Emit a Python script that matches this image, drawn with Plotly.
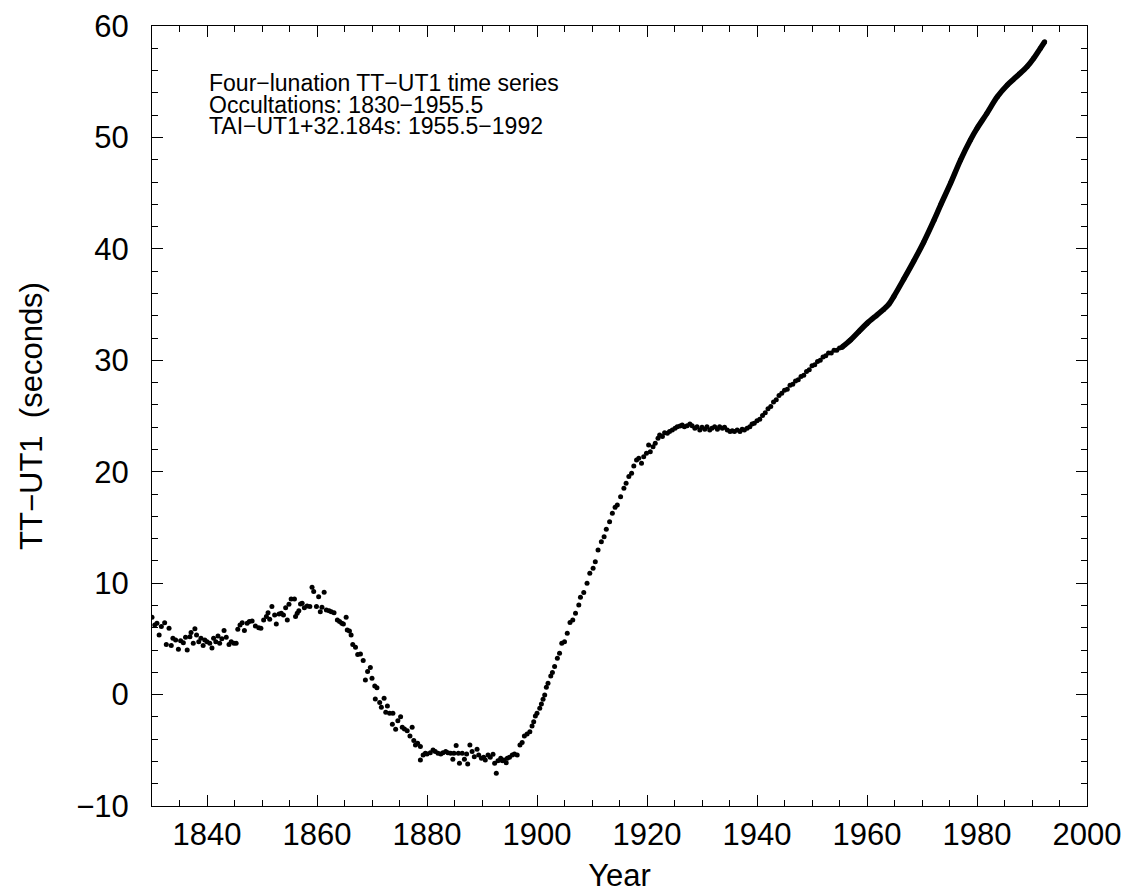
import plotly.graph_objects as go

# ---- Occultation-derived TT-UT1 (1830-1955.5) ----
occ_years_a = [1830.0, 1830.5, 1830.9, 1831.3, 1831.7, 1832.3, 1832.6, 1833.1, 1833.5, 1833.8,
               1834.3, 1834.8, 1835.2, 1835.7, 1836.1, 1836.4, 1836.9, 1837.1, 1837.5, 1837.8,
               1838.1, 1838.5, 1838.9, 1839.3, 1839.6, 1840.0, 1840.5, 1840.9, 1841.2, 1841.6,
               1842.0, 1842.3, 1842.7, 1843.1, 1843.5, 1844.0, 1844.4, 1844.9, 1845.3, 1845.6,
               1846.0, 1846.4, 1846.8, 1847.3, 1847.7, 1848.2, 1848.8, 1849.4, 1849.8, 1850.3,
               1850.8, 1851.1, 1851.4, 1851.8, 1852.3, 1852.6, 1853.1, 1853.5, 1853.9, 1854.3,
               1854.6, 1854.9, 1855.3, 1855.9, 1856.1, 1856.4, 1856.7, 1857.0, 1857.3, 1857.7,
               1858.2, 1858.7, 1859.1, 1859.4, 1859.9, 1860.3, 1860.6, 1860.9, 1861.3, 1861.7,
               1862.2, 1862.6, 1863.1, 1863.7, 1864.1, 1864.5, 1864.8, 1865.3, 1865.5, 1865.9,
               1866.2, 1866.5, 1867.0, 1867.4]
occ_vals_a = [6.93, 6.25, 6.4, 5.35, 6.1, 6.45, 4.5, 5.95, 4.4, 5.05,
              4.9, 4.06, 4.84, 4.66, 5.14, 4.0, 5.2, 5.56, 4.6, 5.9,
              5.35, 4.75, 5.05, 4.4, 4.9, 4.75, 4.6, 4.18, 5.05, 4.75,
              5.26, 4.6, 5.0, 5.74, 5.14, 4.5, 4.75, 4.6, 4.6, 5.86,
              6.25, 6.45, 5.74, 6.4, 6.55, 6.6, 6.16, 6.0, 5.95, 6.7,
              7.0, 7.35, 6.76, 7.9, 7.15, 6.34, 7.24, 7.3, 7.15, 7.8,
              6.7, 8.1, 8.58, 8.58, 7.0, 7.3, 7.53, 8.13, 8.19, 7.8,
              7.95, 7.9, 9.63, 9.24, 7.9, 8.79, 7.44, 7.83, 9.18, 7.6,
              7.53, 7.44, 7.35, 6.7, 6.55, 6.4, 6.34, 6.93, 5.8, 5.71,
              5.35, 4.5, 4.24, 3.6]

occ_years_b = [1867.9, 1868.4, 1868.8, 1869.2, 1869.7, 1870.0, 1870.5, 1870.6, 1870.9, 1871.4,
               1871.7, 1872.2, 1872.5, 1872.8, 1873.2, 1873.7, 1873.8, 1874.3, 1874.7, 1875.2,
               1875.5, 1875.9, 1876.4, 1876.9, 1877.3, 1877.6, 1877.9, 1878.3, 1878.8, 1878.8,
               1879.3, 1879.7, 1880.0, 1880.6, 1881.1, 1881.5, 1882.0, 1882.5, 1882.9, 1883.4,
               1883.8, 1884.3, 1884.7, 1884.9, 1885.3, 1885.7, 1885.9, 1886.4, 1886.8, 1887.2,
               1887.4, 1887.8, 1888.2, 1888.6, 1889.1, 1889.4, 1889.9, 1890.3, 1890.6, 1891.1,
               1891.5, 1892.0, 1892.3, 1892.6, 1892.9, 1893.4, 1893.7, 1894.0, 1894.4, 1894.6,
               1895.0, 1895.5, 1895.9, 1896.4, 1896.9, 1897.3, 1897.7, 1898.2, 1898.7, 1899.1,
               1899.4, 1899.7, 1900.0, 1900.5, 1900.8, 1901.1, 1901.4, 1901.7, 1902.0, 1902.5,
               1902.8, 1903.2, 1903.7, 1904.1, 1904.5, 1905.0, 1905.5, 1906.0, 1906.5, 1907.0,
               1907.6]
occ_vals_b = [3.65, 3.05, 1.31, 2.06, 2.42, 1.46, 0.77, -0.39, 0.62, -0.72,
              -1.14, -0.33, -1.59, -1.02, -1.68, -2.67, -1.68, -3.12, -2.34, -1.98,
              -2.94, -3.09, -3.24, -3.71, -2.94, -4.13, -4.52, -4.37, -4.67, -5.87,
              -5.42, -5.27, -5.33, -5.21, -4.97, -5.12, -5.27, -5.33, -5.21, -5.12,
              -5.21, -5.27, -5.81, -5.27, -4.58, -5.27, -6.17, -5.27, -5.81, -5.33,
              -6.23, -4.52, -5.12, -5.57, -4.91, -5.42, -5.72, -5.63, -5.87, -5.42,
              -5.63, -5.36, -6.17, -7.06, -5.93, -5.72, -5.93, -5.87, -6.11, -5.72,
              -5.63, -5.42, -5.33, -5.42, -4.52, -4.31, -3.71, -3.54, -3.33, -2.82,
              -2.43, -1.92, -1.68, -1.23, -0.84, -0.42, -0.04, 0.65, 1.01, 1.67,
              1.97, 2.51, 3.26, 3.70, 4.6, 4.75, 5.50, 6.46, 6.7, 7.3,
              8.04]

occ_years_c = [1907.9, 1908.5, 1909.1, 1909.6, 1910.2, 1910.6, 1911.1, 1911.7, 1912.2, 1912.6,
               1913.2, 1913.7, 1914.2, 1914.6, 1915.2, 1915.8, 1916.2, 1916.7, 1917.2, 1917.6,
               1918.1, 1918.5, 1919.0, 1919.4, 1919.9, 1920.3, 1920.6, 1921.1, 1921.5, 1922.0,
               1922.3, 1922.8, 1923.2, 1923.7, 1924.1, 1924.6, 1925.1, 1925.5, 1926.0, 1926.4,
               1926.8, 1927.3, 1927.8, 1928.2, 1928.7, 1929.1, 1929.6, 1930.0, 1930.5, 1930.9,
               1931.4, 1931.8, 1932.3, 1932.8, 1933.2, 1933.7, 1934.1, 1934.6, 1935.1, 1935.5,
               1935.9, 1936.4, 1936.9, 1937.3, 1937.7, 1938.2, 1938.7, 1939.1, 1939.5, 1940.0]
occ_vals_c = [8.73, 9.15, 9.98, 10.88, 11.33, 11.93, 12.98, 13.72, 14.17, 14.83,
              15.52, 16.27, 16.80, 17.01, 17.76, 18.51, 18.96, 19.56, 19.86, 20.51,
              21.05, 21.20, 20.75, 21.35, 21.65, 22.40, 21.80, 22.25, 22.55, 23.00,
              23.30, 23.15, 23.50, 23.45, 23.60, 23.74, 23.89, 24.04, 24.10, 24.19,
              24.04, 24.13, 24.28, 24.13, 23.89, 24.04, 23.74, 23.98, 23.80, 24.04,
              23.74, 23.89, 24.04, 23.80, 24.04, 23.89, 23.98, 23.74, 23.60, 23.68,
              23.60, 23.74, 23.60, 23.80, 23.74, 23.89, 24.04, 24.28, 24.34, 24.58]

occ_years_d = [1940.5, 1941.0, 1941.5, 1942.0, 1942.5, 1943.0, 1943.5, 1944.0, 1944.5, 1945.0,
               1945.5, 1946.0, 1946.5, 1947.0, 1947.5, 1948.0, 1948.5, 1949.0, 1949.5, 1950.0,
               1950.5, 1951.0, 1951.5, 1952.0, 1952.5, 1953.0, 1953.5, 1954.0, 1954.5, 1955.0,
               1955.4]
occ_vals_d = [24.70, 25.05, 25.30, 25.65, 25.85, 26.25, 26.45, 26.85, 27.05, 27.30,
              27.40, 27.75, 27.85, 28.15, 28.25, 28.55, 28.65, 29.00, 29.15, 29.50,
              29.60, 29.90, 30.00, 30.30, 30.40, 30.65, 30.65, 30.90, 30.90, 31.10,
              31.15]

# ---- TAI-UT1+32.184s (1955.5-1992) ----
tai_years = [1955.5, 1957.0, 1958.5, 1960.0, 1961.8, 1963.0, 1964.0, 1964.9, 1966.7, 1968.5,
             1970.3, 1972.2, 1973.4, 1975.2, 1977.0, 1978.8, 1980.0, 1981.8, 1983.7, 1985.5,
             1987.3, 1989.1, 1990.3, 1991.5, 1992.3]
tai_vals = [31.2, 31.82, 32.57, 33.31, 34.06, 34.55, 35.05, 35.75, 37.3, 38.9,
            40.6, 42.6, 43.95, 45.9, 47.97, 49.77, 50.81, 52.16, 53.66, 54.70,
            55.51, 56.35, 57.1, 57.99, 58.59]

note_lines = ["Four\u2212lunation TT\u2212UT1 time series",
              "Occultations: 1830\u22121955.5",
              "TAI\u2212UT1+32.184s: 1955.5\u22121992"]

occ_years = occ_years_a + occ_years_b + occ_years_c + occ_years_d
occ_vals = occ_vals_a + occ_vals_b + occ_vals_c + occ_vals_d
assert len(occ_years) == len(occ_vals)
assert len(tai_years) == len(tai_vals)

FONT = "Liberation Sans, Arial, Helvetica, sans-serif"
FS = 31

fig = go.Figure()
fig.add_trace(go.Scatter(x=occ_years, y=occ_vals, mode="markers",
                         marker=dict(color="black", size=5, line=dict(width=0))))
fig.add_trace(go.Scatter(x=tai_years, y=tai_vals, mode="lines+markers",
                         line=dict(color="black", width=5.5, shape="spline", smoothing=1.0),
                         marker=dict(color="black", size=5, line=dict(width=0))))

axis_common = dict(showline=True, linecolor="black", linewidth=1, mirror="allticks",
                   ticks="inside", ticklen=11, tickwidth=1, tickcolor="black",
                   showgrid=False, zeroline=False, automargin=False,
                   tickfont=dict(family=FONT, size=FS, color="black"))

fig.update_xaxes(range=[1830, 2000], tickmode="linear", tick0=1840, dtick=20,
                 minor=dict(ticks="inside", tick0=1830, dtick=5, ticklen=6,
                            tickwidth=1, tickcolor="black", showgrid=False),
                 ticklabelstandoff=1,
                 title=dict(text="Year", font=dict(family=FONT, size=FS, color="black"),
                            standoff=16),
                 **axis_common)
fig.update_yaxes(range=[-10, 60], tickmode="linear", tick0=0, dtick=10,
                 minor=dict(ticks="inside", tick0=0, dtick=2, ticklen=6,
                            tickwidth=1, tickcolor="black", showgrid=False),
                 ticklabelstandoff=16,
                 title=dict(text="TT\u2212UT1 \u00a0(seconds)",
                            font=dict(family=FONT, size=FS, color="black"),
                            standoff=24),
                 **axis_common)

ys = [0.927, 0.899, 0.872]
for txt, yy in zip(note_lines, ys):
    fig.add_annotation(text=txt, xref="paper", yref="paper", x=0.059, y=yy,
                       xanchor="left", yanchor="middle", showarrow=False,
                       font=dict(family=FONT, size=23, color="black"))

fig.update_layout(width=1128, height=893,
                  margin=dict(l=152, r=41, t=26, b=87),
                  plot_bgcolor="white", paper_bgcolor="white",
                  showlegend=False,
                  font=dict(family=FONT, size=FS, color="black"))

fig.write_html("out.html", config={"displayModeBar": False},
               post_script="document.body.style.margin='0px';document.body.style.overflow='hidden';")
